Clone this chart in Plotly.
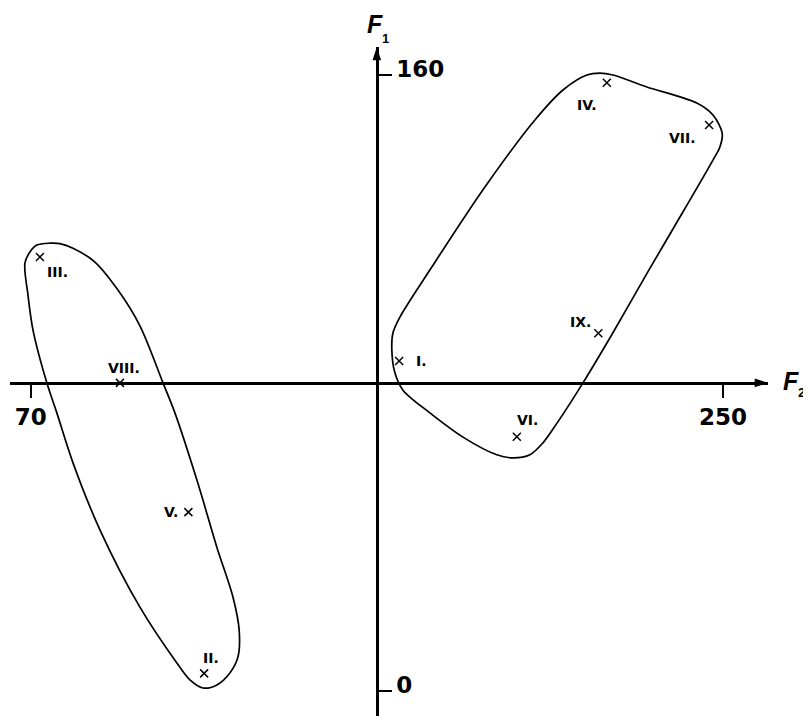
import plotly.graph_objects as go

# objects and their scores on the two factors
labels = ["I.", "II.", "III.", "IV.", "V.", "VI.", "VII.", "VIII.", "IX."]
f2 = [165.8, 115.1, 72.4, 219.8, 111.0, 196.4, 246.4, 93.2, 217.6]
f1 = [85.7, 4.5, 112.7, 158.0, 46.4, 66.0, 147.0, 80.0, 92.9]

# hand drawn cluster outlines
left_f2 = [113.2, 118.4, 122.6, 124.2, 123.9, 121.8, 118.4, 114.8, 111.4, 108.0,
           98.4, 88.0, 81.0, 76.8, 74.2, 70.6, 69.3, 68.5, 69.8, 71.6,
           75.0, 77.6, 81.0, 86.7, 92.7, 98.4, 104.4, 107.5, 113.2]
left_f1 = [54.8, 37.3, 24.3, 15.8, 8.8, 4.6, 1.5, 0.7, 2.8, 7.2,
           21.7, 41.8, 59.2, 72.2, 80.0, 93.7, 102.8, 111.1, 114.0, 115.8,
           116.3, 116.2, 115.0, 111.4, 104.1, 94.8, 80.0, 72.2, 54.8]

right_f2 = [230.5, 221.2, 213.6, 206.9, 203.2, 199.8, 195.4, 191.2, 182.4, 173.8,
            166.8, 164.7, 163.9, 164.2, 166.0, 174.3, 188.1, 201.1, 208.4, 214.6,
            218.0, 221.4, 230.2, 243.2, 247.4, 249.8, 249.2, 247.4, 237.3, 230.5]
right_f1 = [108.9, 92.7, 80.0, 69.6, 64.4, 61.3, 60.5, 61.3, 65.9, 72.2,
            78.1, 82.6, 88.5, 93.0, 97.1, 110.1, 130.9, 148.3, 156.1, 160.0,
            160.5, 160.0, 156.9, 152.7, 149.6, 144.9, 141.3, 137.9, 120.5, 108.9]

# axes cross here
f2_cross = 160
f1_cross = 80
f2_ticks = [70, 250]
f1_ticks = [0, 160]

# the page body has an 8px margin, so the figure is a bit smaller than the window
OFF = 8
W, H = 811 - OFF, 716 - OFF


def paper_x(px):
    return (px - OFF) / W


def paper_y(py):
    return 1 - (py - OFF) / H


x_dom = [paper_x(10), paper_x(768)]
y_dom = [0, paper_y(47)]
x_rng = [64.62, 261.71]
y_rng = [-6.58, 167.28]

x_pos = y_dom[0] + (f1_cross - y_rng[0]) / (y_rng[1] - y_rng[0]) * (y_dom[1] - y_dom[0])
y_pos = x_dom[0] + (f2_cross - x_rng[0]) / (x_rng[1] - x_rng[0]) * (x_dom[1] - x_dom[0])

# label nudges in pixels (dx right, dy up)
label_shift = {"I.": (22, 0), "II.": (7, 15), "III.": (18, -15), "IV.": (-20, -22),
               "V.": (-17, 0), "VI.": (11, 17), "VII.": (-27, -13), "VIII.": (4, 15),
               "IX.": (-18, 11)}

fig = go.Figure()

for xs, ys in [(left_f2, left_f1), (right_f2, right_f1)]:
    fig.add_trace(go.Scatter(x=xs, y=ys, mode="lines",
                             line=dict(color="black", width=1.7, shape="spline", smoothing=0.9),
                             hoverinfo="skip"))

fig.add_trace(go.Scatter(x=f2, y=f1, mode="markers", text=labels,
                         marker=dict(symbol="x-thin", size=8, line=dict(color="black", width=1.5))))

# arrow heads at the end of both axes
fig.add_trace(go.Scatter(x=[x_rng[1], f2_cross], y=[f1_cross, y_rng[1]], mode="markers",
                         marker=dict(symbol="arrow", size=14, angle=[90, 0], color="black"),
                         cliponaxis=False, hoverinfo="skip"))

annotations = []
for lab, x, y in zip(labels, f2, f1):
    dx, dy = label_shift[lab]
    annotations.append(dict(x=x, y=y, text=lab, showarrow=False, xshift=dx, yshift=dy,
                            font=dict(family="DejaVu Sans", size=14, color="black", weight="bold")))

# axis names: italic F with a small index below right
big = dict(family="Liberation Sans", size=25, color="black", weight="bold")
small = dict(family="Liberation Sans", size=13, color="black", weight="bold")
for name, idx, fx, fy, ix, iy in [("F", "2", 781, 381, 801, 393), ("F", "1", 365, 24, 385, 38)]:
    annotations.append(dict(xref="paper", yref="paper", x=paper_x(fx), y=paper_y(fy),
                            xanchor="left", yanchor="middle", showarrow=False,
                            text="<i>" + name + "</i>", font=big))
    annotations.append(dict(xref="paper", yref="paper", x=paper_x(ix), y=paper_y(iy),
                            xanchor="center", yanchor="middle", showarrow=False,
                            text=idx, font=small))

tickfont = dict(family="DejaVu Sans", size=23, color="black", weight="bold")

fig.update_layout(
    width=W, height=H,
    margin=dict(l=0, r=0, t=0, b=0, autoexpand=False),
    paper_bgcolor="white", plot_bgcolor="white",
    showlegend=False,
    annotations=annotations,
    xaxis=dict(domain=x_dom, range=x_rng, anchor="free", position=x_pos, automargin=False,
               showgrid=False, zeroline=False, showline=True, linecolor="black", linewidth=2.5,
               tickvals=f2_ticks, ticktext=[str(v) for v in f2_ticks],
               ticks="outside", ticklen=13, tickwidth=2, tickcolor="black", tickfont=tickfont),
    yaxis=dict(domain=y_dom, range=y_rng, anchor="free", position=y_pos, side="right",
               automargin=False,
               showgrid=False, zeroline=False, showline=True, linecolor="black", linewidth=2.5,
               tickvals=f1_ticks, ticktext=[str(v) for v in f1_ticks],
               ticks="outside", ticklen=13, tickwidth=2, tickcolor="black", tickfont=tickfont,
               ticklabelshift=-6),
)

fig.write_html("out.html")
